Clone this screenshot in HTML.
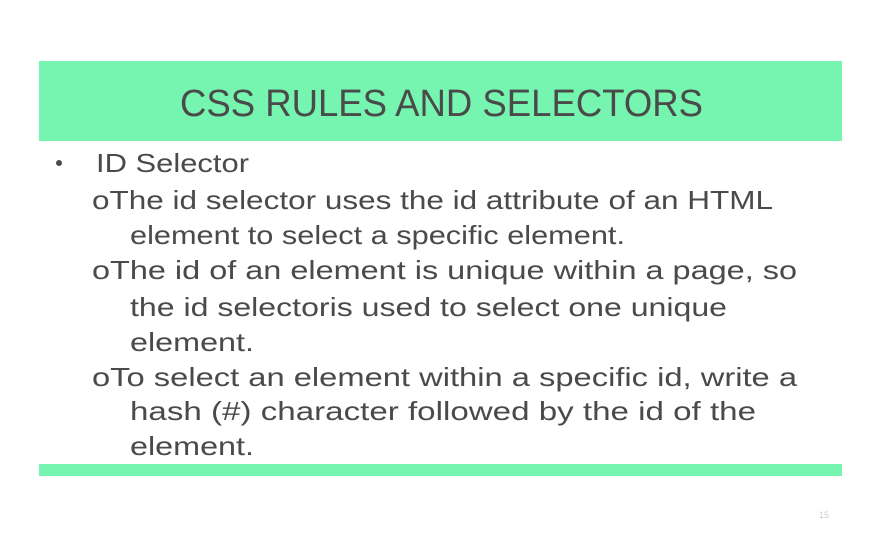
<!DOCTYPE html>
<html><head><meta charset="utf-8"><style>html,body{margin:0;padding:0;background:#fff}svg{display:block}</style></head>
<body>
<svg width="880" height="550" xmlns="http://www.w3.org/2000/svg" font-family="Liberation Sans, sans-serif" fill="#4a4a4a">
<rect x="39" y="61" width="803" height="80" fill="#75f5af"/>
<rect x="39" y="464" width="803" height="12" fill="#75f5af"/>
<text x="180" y="116" font-size="38" textLength="523" lengthAdjust="spacingAndGlyphs">CSS RULES AND SELECTORS</text>
<circle cx="59" cy="163" r="3" fill="#4a4a4a"/>
<g font-size="26">
<text x="96" y="172" textLength="153" lengthAdjust="spacingAndGlyphs">ID Selector</text>
<text x="92" y="209" textLength="681" lengthAdjust="spacingAndGlyphs">oThe id selector uses the id attribute of an HTML</text>
<text x="130" y="244" textLength="495" lengthAdjust="spacingAndGlyphs">element to select a specific element.</text>
<text x="92" y="279" textLength="705" lengthAdjust="spacingAndGlyphs">oThe id of an element is unique within a page, so</text>
<text x="130" y="316" textLength="597" lengthAdjust="spacingAndGlyphs">the id selectoris used to select one unique</text>
<text x="130" y="351" textLength="124" lengthAdjust="spacingAndGlyphs">element.</text>
<text x="92" y="386" textLength="705" lengthAdjust="spacingAndGlyphs">oTo select an element within a specific id, write a</text>
<text x="130" y="420" textLength="626" lengthAdjust="spacingAndGlyphs">hash (#) character followed by the id of the</text>
<text x="130" y="455" textLength="124" lengthAdjust="spacingAndGlyphs">element.</text>
</g>
<text x="819" y="518" font-size="9" fill="#ccc">15</text>
</svg>
</body></html>
